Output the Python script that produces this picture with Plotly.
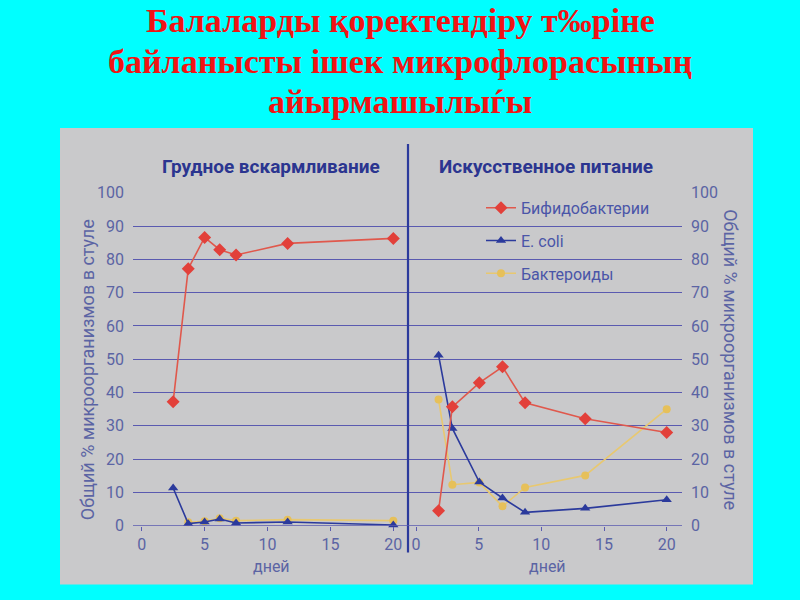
import plotly.graph_objects as go

# ---------------- data ----------------
days_breast = [2.5, 3.7, 5.0, 6.2, 7.5, 11.6, 20.0]
bifido_breast = [37.2, 77.2, 86.6, 82.9, 81.3, 84.8, 86.3]
ecoli_breast = [11.3, 0.6, 1.1, 2.0, 0.8, 1.1, 0.2]
days_bact_breast = [3.7, 5.0, 6.2, 7.5, 11.6, 20.0]
bact_breast = [1.0, 1.3, 2.2, 1.5, 1.8, 1.5]

days_formula = [1.8, 2.9, 5.05, 6.9, 8.7, 13.5, 20.0]
bifido_formula = [4.5, 35.7, 42.9, 47.7, 36.9, 32.1, 28.0]
ecoli_formula = [51.2, 29.2, 13.1, 8.3, 4.0, 5.2, 7.8]
bact_formula = [37.9, 12.3, 13.0, 5.8, 11.5, 15.1, 35.0]

x_ticks = [0, 5, 10, 15, 20]
y_ticks = [0, 10, 20, 30, 40, 50, 60, 70, 80, 90, 100]

title_lines = ["Балаларды қоректендіру т‰ріне",
               "байланысты ішек микрофлорасының",
               "айырмашылыѓы"]
panel_titles = ["Грудное вскармливание", "Искусственное питание"]
y_title = "Общий % микроорганизмов в стуле"
x_title = "дней"
names = ["Бифидобактерии", "E. coli", "Бактероиды"]

# ---------------- style ----------------
W, H = 800, 600
def px(x):
    return x / W
def py(y):
    return 1 - ((y - 7.6) / 0.9716) / H

NARROW = "Liberation Sans Narrow, Arial Narrow, Roboto, sans-serif"
RED = "#e2403a"
RED_LINE = "#e0584c"
BLUE = "#2b3a9c"
YEL = "#e6c05a"
YEL_LINE = "#e8c870"
GRID = "#5a5ab0"
TICK = "#5b64a4"
PANEL = "#c9c9cb"

fig = go.Figure()

def add_series(x, y, name, rank, color, lcolor, symbol, size, xa, ya, show):
    fig.add_trace(go.Scatter(
        x=x, y=y, name=name, mode="lines+markers",
        line=dict(color=lcolor, width=1.6),
        marker=dict(color=color, symbol=symbol, size=size),
        xaxis=xa, yaxis=ya, showlegend=show, legendgroup=name,
        legendrank=rank, cliponaxis=False))

# left panel
add_series(days_bact_breast, bact_breast, names[2], 3, YEL, YEL_LINE, "circle", 8, "x", "y", False)
add_series(days_breast, ecoli_breast, names[1], 2, BLUE, BLUE, "triangle-up", 9, "x", "y", False)
add_series(days_breast, bifido_breast, names[0], 1, RED, RED_LINE, "diamond", 10, "x", "y", False)
# right panel
add_series(days_formula, bact_formula, names[2], 3, YEL, YEL_LINE, "circle", 8, "x2", "y2", True)
add_series(days_formula, ecoli_formula, names[1], 2, BLUE, BLUE, "triangle-up", 9, "x2", "y2", True)
add_series(days_formula, bifido_formula, names[0], 1, RED, RED_LINE, "diamond", 10, "x2", "y2", True)

tickfont = dict(family=NARROW, size=16, color=TICK)
common_x = dict(tickvals=x_ticks, showgrid=False, zeroline=False, showline=False,
                ticks="outside", ticklen=4, tickcolor=GRID, tickfont=tickfont)
common_y = dict(range=[0, 100], tickvals=y_ticks, showgrid=True, gridcolor=GRID,
                gridwidth=1, zeroline=False, showline=False, tickfont=tickfont,
                domain=[py(526), py(192)])

fig.update_layout(
    autosize=True,
    margin=dict(l=0, r=0, t=0, b=0),
    paper_bgcolor="#00ffff",
    plot_bgcolor="rgba(0,0,0,0)",
    xaxis=dict(domain=[px(133), px(408)],
               range=[-(141.7 - 133) / 12.58, (408 - 141.7) / 12.58],
               anchor="y", **common_x),
    yaxis=dict(anchor="x", side="left", ticklabelstandoff=8, **common_y),
    xaxis2=dict(domain=[px(408), px(682)],
                range=[-(416 - 408) / 12.535, (682 - 416) / 12.535],
                anchor="y2", **common_x),
    yaxis2=dict(anchor="x2", side="right", ticklabelstandoff=8, **common_y),
    showlegend=True,
    legend=dict(x=px(655), y=py(190), xanchor="right", yanchor="top",
                bgcolor="rgba(0,0,0,0)", traceorder="grouped",
                tracegroupgap=9,
                font=dict(family=NARROW, size=16, color="#4a55a8")),
)

# grey panel & divider
fig.add_shape(type="rect", xref="paper", yref="paper",
              x0=px(60), x1=px(753), y0=py(585), y1=py(127),
              fillcolor=PANEL, line=dict(width=0), layer="below")
fig.add_shape(type="line", xref="paper", yref="paper",
              x0=px(408), x1=px(408), y0=py(553), y1=py(143),
              line=dict(color=BLUE, width=2.2))
# zero lines (x axes baseline)
for xa, ya in (("x", "y"), ("x2", "y2")):
    fig.add_shape(type="line", xref=f"{xa} domain", yref=ya,
                  x0=0, x1=1, y0=0, y1=0, line=dict(color=GRID, width=1.2))

# slide title
for i, t in enumerate(title_lines):
    fig.add_annotation(text=f"<b>{t}</b>", xref="paper", yref="paper",
                       x=0.5, y=py(19.5 + i * 40.5), xanchor="center", yanchor="middle",
                       showarrow=False,
                       font=dict(family="Liberation Serif, Times New Roman, serif",
                                 size=34, color="#f01414"))

# panel titles
for t, cx in zip(panel_titles, (271, 546)):
    fig.add_annotation(text=f"<b>{t}</b>", xref="paper", yref="paper",
                       x=px(cx), y=py(166), xanchor="center", yanchor="middle",
                       showarrow=False,
                       font=dict(family=NARROW, size=19, color="#2b3590"))

# axis titles
fig.add_annotation(text=y_title, xref="paper", yref="paper", x=px(87), y=py(370),
                   textangle=-90, showarrow=False, xanchor="center", yanchor="middle",
                   font=dict(family=NARROW, size=18, color=TICK))
fig.add_annotation(text=y_title, xref="paper", yref="paper", x=px(731), y=py(359),
                   textangle=90, showarrow=False, xanchor="center", yanchor="middle",
                   font=dict(family=NARROW, size=18, color=TICK))
for cx in (271, 547):
    fig.add_annotation(text=x_title, xref="paper", yref="paper", x=px(cx), y=py(567),
                       showarrow=False, xanchor="center", yanchor="middle",
                       font=dict(family=NARROW, size=16, color=TICK))

post = ("document.documentElement.style.overflow='hidden';"
        "document.documentElement.style.margin='0';"
        "document.body.style.margin='0';"
        "document.body.style.padding='0';"
        "document.body.style.overflow='hidden';"
        "var gd=document.getElementById('{plot_id}');"
        "Plotly.Plots.resize(gd);")
fig.write_html("out.html", config={"displayModeBar": False, "responsive": True},
               default_width="100vw", default_height="100vh", post_script=post)
